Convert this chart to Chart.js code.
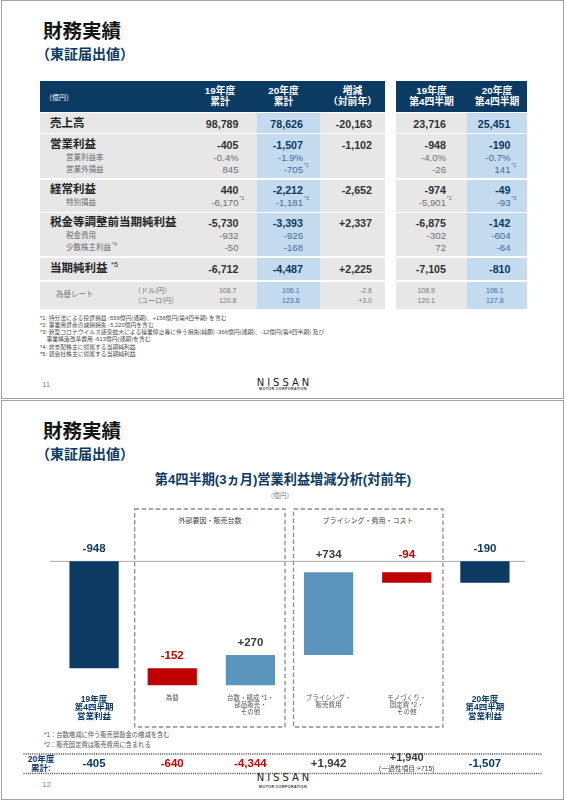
<!DOCTYPE html>
<html>
<head>
<meta charset="utf-8">
<script src="https://cdn.jsdelivr.net/npm/chart.js@4/dist/chart.umd.min.js"></script>
<style>
body { margin: 0; width: 566px; height: 800px; position: relative; background: #fff; overflow: hidden;
  font-family: "Liberation Sans", "Noto Sans CJK JP", sans-serif; }
.slide { position: absolute; left: 1px; width: 563px; box-sizing: border-box; border: 1.5px solid #a2a2a2; }
.tx { position: absolute; white-space: nowrap; line-height: 1; }
.box { position: absolute; }
.h1 { font-size: 19.5px; font-weight: 700; color: #151515; }
.h2 { font-size: 14px; font-weight: 700; color: #0d3a62; }
.hd { font-size: 9.8px; font-weight: 700; color: #fff; text-align: center; line-height: 10.5px; }
.lab { font-size: 11.5px; font-weight: 700; color: #262626; }
.slab { font-size: 7.5px; color: #6a6a6a; }
.num { font-size: 10.7px; font-weight: 700; color: #333; }
.num.hl { color: #0d3a62; }
.snum { font-size: 9.6px; color: #707070; }
.snum.hl { color: #3f6d9a; }
.fx { font-size: 7px; color: #777; }
.fx.hl { color: #3f6d9a; }
.sp { position: absolute; left: 100%; top: -2px; margin-left: 1px; font-size: 5px; }
.note { font-size: 5.8px; color: #4a4a4a; }
.pg { font-size: 8px; color: #888; }
.logo { font-size: 10px; letter-spacing: 3px; color: #1c1c1c; font-family: "DejaVu Sans", sans-serif; }
.logo2 { font-size: 3.6px; font-weight: 700; letter-spacing: 0.4px; color: #333; }
#chart { position: absolute; left: 0; top: 500px; z-index: 2; }
svg { position: absolute; left: 0; top: 0; z-index: 1; }
</style>
</head>
<body>
<div class="slide" style="top:0;height:399px"></div>
<div class="slide" style="top:400px;height:400px"></div>

<svg width="566" height="800">
  <rect x="134.7" y="509" width="150.3" height="218" fill="none" stroke="#8c8c8c" stroke-width="1.3" stroke-dasharray="4.5 2.5"/>
  <rect x="293.5" y="509" width="149.5" height="218" fill="none" stroke="#8c8c8c" stroke-width="1.3" stroke-dasharray="4.5 2.5"/>
  <line x1="23.5" y1="754" x2="541.5" y2="754" stroke="#444" stroke-width="1.3" stroke-dasharray="1 1.2"/>
  <line x1="23.5" y1="773.5" x2="541.5" y2="773.5" stroke="#444" stroke-width="1.3" stroke-dasharray="1 1.2"/>
</svg>

<canvas id="chart" width="566" height="280"></canvas>

<script>
// waterfall data (億円)
var categories = [
  ["19年度", "第4四半期", "営業利益"],
  "為替",
  ["台数・構成 *1・", "部品販売・", "その他"],
  ["プライシング・", "販売費用"],
  ["モノづくり・", "固定費 *2・", "その他"],
  ["20年度", "第4四半期", "営業利益"]
];
var changes = [-948, -152, 270, 734, -94, -190];
var isTotal = [true, false, false, false, false, true];
var fullYear = [-405, -640, -4344, 1942, 1940, -1507];
var fullYearNotes = ["", "", "", "", "(一過性項目:+715)", ""];

var navy = "#0d3a62";
var red = "#c00000";
var lightBlue = "#5b95be";
var dark = "#3a3a3a";

// helper for page text
function put(html, x, y, align, cls) {
  var d = document.createElement("div");
  d.className = "tx " + (cls || "");
  d.innerHTML = html;
  d.style.top = y + "px";
  if (align === "r") {
    d.style.right = (566 - x) + "px";
    d.style.transform = "translateY(-50%)";
  } else if (align === "c") {
    d.style.left = x + "px";
    d.style.transform = "translate(-50%,-50%)";
  } else {
    d.style.left = x + "px";
    d.style.transform = "translateY(-50%)";
  }
  document.body.appendChild(d);
  return d;
}
function rect(x, y, w, h, color) {
  var d = document.createElement("div");
  d.className = "box";
  d.style.cssText = "left:" + x + "px;top:" + y + "px;width:" + w + "px;height:" + h + "px;background:" + color;
  document.body.appendChild(d);
}
function withSup(s) {
  var p = s.split("^");
  return p.length > 1 ? p[0] + '<span class="sp">' + p[1] + "</span>" : s;
}

// ---- slide 1 : table ----
[0, 400].forEach(function (off) {
  put("財務実績", 43, 31.5 + off, "l", "h1");
  put("（東証届出値）", 36, 53.5 + off, "l", "h2");
});

rect(39.5, 80.5, 345, 31, "#0b3a63");
rect(396, 80.5, 131, 31, "#0b3a63");
var rowBands = [[112.5, 132.5], [134, 178], [179.5, 211.5], [213, 256], [257.5, 280], [281.5, 309]];
rowBands.forEach(function (b) {
  rect(39.5, b[0], 345, b[1] - b[0], "#e7e7e7");
  rect(396, b[0], 131, b[1] - b[0], "#e7e7e7");
  rect(256.5, b[0], 63, b[1] - b[0], "#c4dbef");
  rect(467, b[0], 60, b[1] - b[0], "#c4dbef");
});

put("（億円）", 45, 96.5, "l", "").style.cssText += "font-size:7px;color:#fff";
var heads = [["19年度", "累計", 220], ["20年度", "累計", 283.5], ["増減", "（対前年）", 352.5], ["19年度", "第4四半期", 431.5], ["20年度", "第4四半期", 497]];
heads.forEach(function (h) { put(h[0] + "<br>" + h[1], h[2], 96.3, "c", "hd"); });

var colRight = [238.5, 303, 372, 446, 510.5];
var tableRows = [
  [124, "売上高", "m", ["98,789", "78,626", "-20,163", "23,716", "25,451"]],
  [144.8, "営業利益", "m", ["-405", "-1,507", "-1,102", "-948", "-190"]],
  [157.8, "営業利益率", "s", ["-0.4%", "-1.9%", "", "-4.0%", "-0.7%"]],
  [169.8, "営業外損益", "s", ["845", "-705^*1", "", "-26", "141^*1"]],
  [189.5, "経常利益", "m", ["440", "-2,212", "-2,652", "-974", "-49"]],
  [202.5, "特別損益", "s", ["-6,170^*2", "-1,181^*3", "", "-5,901^*2", "-93^*3"]],
  [222.5, "税金等調整前当期純利益", "m", ["-5,730", "-3,393", "+2,337", "-6,875", "-142"]],
  [235.5, "税金費用", "s", ["-932", "-926", "", "-302", "-604"]],
  [247.5, "少数株主利益^*4", "s", ["-50", "-168", "", "72", "-64"]],
  [268.8, "当期純利益", "m", ["-6,712", "-4,487", "+2,225", "-7,105", "-810"]]
];
tableRows.forEach(function (r) {
  var main = r[2] === "m";
  put(withSup(r[1]), main ? 50 : 66, r[0], "l", main ? "lab" : "slab");
  r[3].forEach(function (v, i) {
    if (!v) return;
    var hl = (i === 1 || i === 4) ? " hl" : "";
    put(withSup(v), colRight[i], r[0], "r", (main ? "num" : "snum") + hl);
  });
});
put("*5", 111, 265, "l", "").style.cssText += "font-size:7.5px;color:#333";

put("為替レート", 56, 295, "l", "fx").style.fontSize = "7.5px";
put("（ドル/円）", 134, 290.3, "l", "fx");
put("（ユーロ/円）", 134, 299.8, "l", "fx");
var fxRight = [236.5, 299.6, 372, 435, 503.6];
var fxRows = [["108.7", "106.1", "-2.6", "108.9", "106.1"], ["120.8", "123.8", "+3.0", "120.1", "127.8"]];
fxRows.forEach(function (row, k) {
  row.forEach(function (v, i) {
    put(v, fxRight[i], k === 0 ? 290.3 : 299.8, "r", "fx" + ((i === 1 || i === 4) ? " hl" : ""));
  });
});

var notes1 = [
  "*1: 持分法による投資損益 -559億円(通期)、+156億円(第4四半期) を含む",
  "*2: 事業用資産の減損損失 -5,220億円を含む",
  "*3: 新型コロナウイルス感染拡大による操業停止等に伴う損失(純額) -366億円(通期)、-12億円(第4四半期) 及び",
  "&nbsp;&nbsp;&nbsp;&nbsp;事業構造改革費用 -613億円(通期)を含む",
  "*4: 非支配株主に帰属する当期純利益",
  "*5: 親会社株主に帰属する当期純利益"
];
notes1.forEach(function (t, i) { put(t, 40, 318.5 + i * 7.3, "l", "note"); });

put("11", 42, 385, "l", "pg");
put("12", 42, 785, "l", "pg");
[[382.5, 389.5], [777.7, 787.7]].forEach(function (p) {
  put("NISSAN", 284.5, p[0], "c", "logo");
  put("MOTOR CORPORATION", 283, p[1], "c", "logo2");
});

// ---- slide 2 : surrounding text ----
put("第4四半期(3ヵ月)営業利益増減分析(対前年)", 283, 480, "c", "").style.cssText += "font-size:13.2px;font-weight:700;color:" + navy;
put("（億円）", 280, 496, "c", "").style.cssText += "font-size:6.5px;color:#777";
put("外部要因・販売台数", 210, 519.5, "c", "").style.cssText += "font-size:7px;color:#444";
put("プライシング・費用・コスト", 368, 519.5, "c", "").style.cssText += "font-size:7px;color:#444";
put("*1：台数増減に伴う販売奨励金の増減を含む", 44, 735.3, "l", "").style.cssText += "font-size:6.3px;color:#555";
put("*2：販売固定費は販売費用に含まれる", 44, 744.5, "l", "").style.cssText += "font-size:6.3px;color:#555";
put("20年度<br>累計:", 41, 763.8, "c", "").style.cssText += "font-size:8.5px;font-weight:700;color:" + navy + ";text-align:center;line-height:9px";

// ---- waterfall chart ----
var run = 0;
var floating = changes.map(function (v, i) {
  if (isTotal[i]) { run = v; return [0, v]; }
  var start = run;
  run += v;
  return [start, run];
});
function markColor(i, v) {
  if (isTotal[i]) return navy;
  return v < 0 ? red : dark;
}
function barColor(i) {
  if (isTotal[i]) return navy;
  return changes[i] < 0 ? red : lightBlue;
}
function fmt(v) {
  return (v > 0 ? "+" : "") + v.toLocaleString("en-US");
}
var fontFamily = '"Liberation Sans", "Noto Sans CJK JP", sans-serif';

var waterfallExtras = {
  id: "waterfallExtras",
  beforeDatasetsDraw: function (chart) {
    var c = chart.ctx;
    var y0 = chart.scales.y.getPixelForValue(0);
    c.save();
    c.strokeStyle = "#a8a8a8";
    c.lineWidth = 1;
    c.beginPath();
    c.moveTo(50, y0);
    c.lineTo(525, y0);
    c.stroke();
    c.restore();
  },
  afterDatasetsDraw: function (chart) {
    var c = chart.ctx;
    var ys = chart.scales.y;
    var xs = chart.scales.x;
    var y0 = ys.getPixelForValue(0);
    c.save();
    c.textAlign = "center";
    c.textBaseline = "middle";
    floating.forEach(function (r, i) {
      var x = xs.getPixelForValue(i);
      var top = ys.getPixelForValue(Math.max(r[0], r[1]));
      var y = top - 12.5;
      if (Math.abs(y - y0) < 8) y = y0 - 6.5;
      c.font = "bold 11.5px " + fontFamily;
      c.fillStyle = markColor(i, changes[i]);
      c.fillText(fmt(changes[i]), x, y);

      // full year row
      var fy = 264;
      c.fillStyle = markColor(i, fullYear[i]);
      if (fullYearNotes[i]) {
        c.font = "bold 11px " + fontFamily;
        c.fillText(fmt(fullYear[i]), x, fy - 5.7);
        c.font = "6.8px " + fontFamily;
        c.fillStyle = "#444";
        c.fillText(fullYearNotes[i], x, fy + 5.3);
      } else {
        c.font = "bold 11.5px " + fontFamily;
        c.fillText(fmt(fullYear[i]), x, fy);
      }
    });
    c.restore();
  }
};

new Chart(document.getElementById("chart"), {
  type: "bar",
  data: {
    labels: categories,
    datasets: [{
      data: floating,
      backgroundColor: changes.map(function (v, i) { return barColor(i); }),
      borderWidth: 0,
      barPercentage: 0.63,
      categoryPercentage: 1
    }]
  },
  options: {
    responsive: false,
    animation: false,
    layout: { padding: { left: 55, right: 42, top: 5, bottom: 0 } },
    plugins: { legend: { display: false }, tooltip: { enabled: false } },
    scales: {
      y: { display: false, min: -1150, max: 500 },
      x: {
        grid: { display: false, drawTicks: false },
        border: { display: false },
        ticks: {
          padding: 4,
          autoSkip: false,
          maxRotation: 0,
          font: function (ctx) {
            return isTotal[ctx.index]
              ? { family: fontFamily, size: 8.5, weight: "bold", lineHeight: 1 }
              : { family: fontFamily, size: 6.5, lineHeight: 1.05 };
          },
          color: function (ctx) { return isTotal[ctx.index] ? navy : "#555"; }
        },
        afterFit: function (scale) { scale.height = 89; }
      }
    }
  },
  plugins: [waterfallExtras]
});
</script>
</body>
</html>
